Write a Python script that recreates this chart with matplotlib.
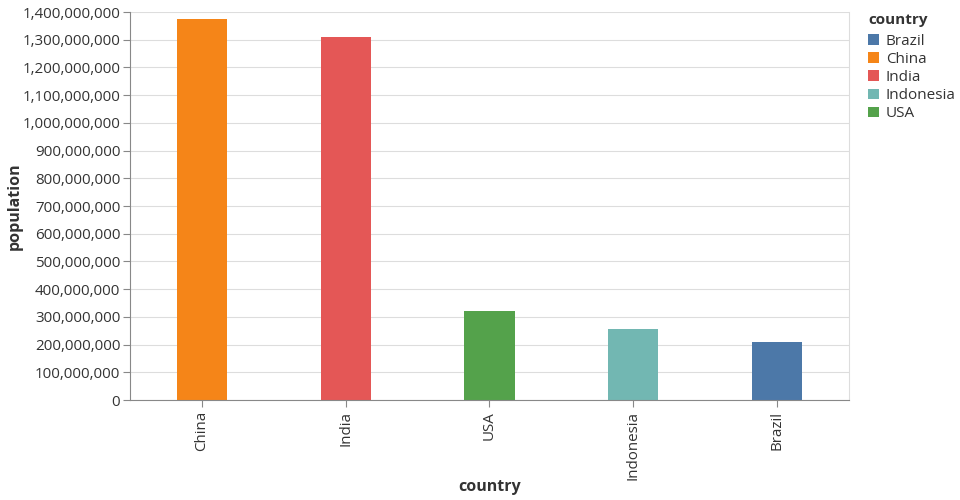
import matplotlib.pyplot as plt
from matplotlib.patches import Patch
from matplotlib.ticker import FuncFormatter, MultipleLocator

plt.rcParams['font.family'] = ['Open Sans', 'DejaVu Sans']

# data (sorted by population, descending)
countries = ['China', 'India', 'USA', 'Indonesia', 'Brazil']
population = [1376048943, 1311050527, 321773631, 257563815, 207847528]

# legend order is alphabetical
legend_order = ['Brazil', 'China', 'India', 'Indonesia', 'USA']
colors = {'Brazil': '#4c78a8', 'China': '#f58518', 'India': '#e45756',
          'Indonesia': '#72b7b2', 'USA': '#54a24b'}

fig = plt.figure(figsize=(9.6, 5), dpi=100)
ax = fig.add_axes([130/960, 1-400/500, 719/960, 388/500])

x = range(len(countries))
ax.bar(x, population, width=0.35, color=[colors[c] for c in countries], zorder=2)

ax.set_xlim(-0.5, len(countries) - 0.5)
ax.set_ylim(0, 1.4e9)
ax.yaxis.set_major_locator(MultipleLocator(1e8))
ax.yaxis.set_major_formatter(FuncFormatter(lambda v, p: f'{int(v):,}'))
ax.set_xticks(list(x))
ax.set_xticklabels(countries, rotation=90)

ax.grid(axis='y', color='#dddddd', linewidth=0.8, zorder=0)
ax.spines['top'].set_visible(False)
ax.spines['right'].set_color('#dddddd')
ax.spines['right'].set_linewidth(0.8)
for s in ['left', 'bottom']:
    ax.spines[s].set_color('#888888')
    ax.spines[s].set_linewidth(0.8)

ax.tick_params(axis='both', colors='#888888', labelcolor='#333333',
               labelsize=10.9, length=5, width=0.8)
ax.tick_params(axis='y', pad=2)
ax.tick_params(axis='x', pad=3)

ax.set_ylabel('population', fontsize=11.5, fontweight='bold', color='#333333', va='center')
ax.set_xlabel('country', fontsize=11.5, fontweight='bold', color='#333333', va='center')
ax.yaxis.set_label_coords((15 - 130) / 719, 0.5)
ax.xaxis.set_label_coords(0.5, (400 - 487) / 388)

handles = [Patch(facecolor=colors[c], edgecolor='none', label=c) for c in legend_order]
leg = fig.legend(handles=handles, title='country', loc='upper left',
                 bbox_to_anchor=(862/960, 1-7/500), frameon=False,
                 fontsize=11, handlelength=0.7, handleheight=0.7,
                 handletextpad=0.45, labelspacing=0.2, borderaxespad=0,
                 alignment='left', title_fontproperties={'weight': 'bold', 'size': 11})
leg._legend_box.sep = 5
for t in leg.get_texts():
    t.set_color('#333333')
leg.get_title().set_color('#333333')

fig.savefig('out.png', dpi=100)
